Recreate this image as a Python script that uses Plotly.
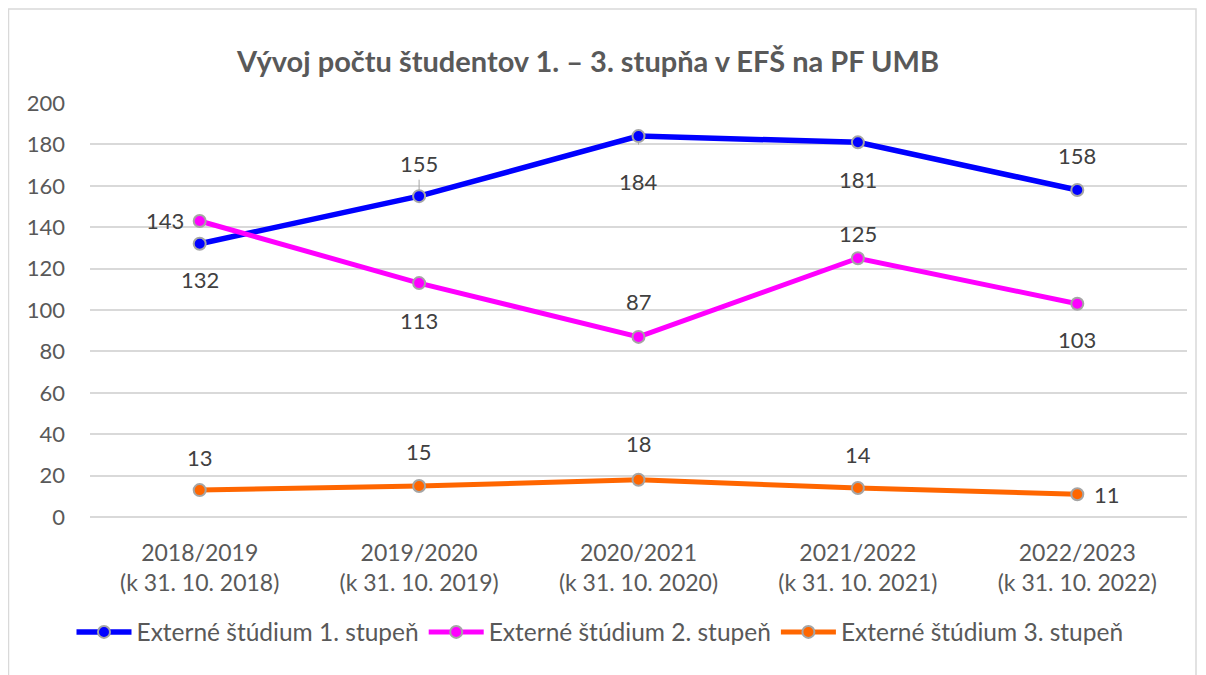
import plotly.graph_objects as go

categories = ["2018/2019<br>(k 31. 10. 2018)", "2019/2020<br>(k 31. 10. 2019)",
              "2020/2021<br>(k 31. 10. 2020)", "2021/2022<br>(k 31. 10. 2021)",
              "2022/2023<br>(k 31. 10. 2022)"]
series_names = ["Externé štúdium 1. stupeň", "Externé štúdium 2. stupeň", "Externé štúdium 3. stupeň"]
s1 = [132, 155, 184, 181, 158]
s2 = [143, 113, 87, 125, 103]
s3 = [13, 15, 18, 14, 11]
y_ticks = [0, 20, 40, 60, 80, 100, 120, 140, 160, 180, 200]

colors = ["#0000FF", "#FF00FF", "#FF6600"]
widths = [5.5, 5, 5]
# label offsets (px): (xshift, yshift)
offsets = [
    [(0, -36), (0, 33), (0, -45), (0, -37), (0, 34)],
    [(-35, 0), (0, -37), (0, 35), (0, 25), (0, -36)],
    [(0, 33), (0, 34), (0, 36), (0, 34), (30, 0)],
]

# page body has an 8px margin: figure coordinates = page coordinates - 8
W, H = 1198, 667
L, T, R, B = 82, 95, 19, 158
PW, PH = W - L - R, H - T - B

FONT = "Lato, 'Open Sans', sans-serif"
fig = go.Figure()
annotations = []
for name, vals, col, w, offs in zip(series_names, [s1, s2, s3], colors, widths, offsets):
    fig.add_trace(go.Scatter(
        x=categories, y=vals, name=name, mode="lines+markers",
        line=dict(color=col, width=w),
        marker=dict(size=12, color=col, line=dict(color="#A5A5A5", width=2)),
    ))
    for c, v, (dx, dy) in zip(categories, vals, offs):
        annotations.append(dict(x=c, y=v, text=str(v), showarrow=False,
                                xshift=dx, yshift=dy,
                                font=dict(family=FONT, size=22, color="#404040")))

# leader lines for 155 and 184
for idx, ay in [(1, -18), (2, 10)]:
    annotations.append(dict(x=categories[idx], y=s1[idx], ax=0, ay=ay,
                            axref="pixel", ayref="pixel", showarrow=True, arrowhead=0,
                            arrowwidth=1, arrowcolor="#A5A5A5", text="", standoff=6))

fig.update_layout(
    width=W, height=H,
    margin=dict(l=L, r=R, t=T, b=B, autoexpand=False),
    paper_bgcolor="white", plot_bgcolor="white",
    title=dict(text="<b>Vývoj počtu študentov 1. – 3. stupňa v EFŠ na PF UMB</b>",
               x=580 / W, xref="container", xanchor="center",
               y=1 - 54 / H, yref="container", yanchor="middle",
               font=dict(family=FONT, size=29, color="#595959")),
    font=dict(family=FONT, color="#595959"),
    showlegend=True,
    legend=dict(orientation="h", x=(592 - L) / PW, xanchor="center",
                y=(H - B - 624) / PH, yanchor="middle",
                font=dict(family=FONT, size=24.5, color="#595959"), itemwidth=55,
                traceorder="normal"),
    annotations=annotations,
    shapes=[dict(type="rect", xref="paper", yref="paper",
                 x0=(0.5 - L) / PW, x1=(1188 - L) / PW,
                 y0=(H - B - 670) / PH, y1=(H - B - 1) / PH,
                 line=dict(color="#D9D9D9", width=1.5), layer="below")],
)
fig.update_xaxes(showgrid=False, showline=False, zeroline=False,
                 tickfont=dict(family=FONT, size=23, color="#595959"), ticks="",
                 range=[-0.5, 4.5], ticklabelstandoff=20)
fig.update_yaxes(range=[0, 200], tickvals=y_ticks, showgrid=True, gridcolor="#D9D9D9",
                 gridwidth=1.5, zeroline=True, zerolinecolor="#D9D9D9", zerolinewidth=1.5,
                 tickfont=dict(family=FONT, size=22, color="#595959"), ticks="",
                 ticklabelstandoff=24)
fig.write_html("out.html")
